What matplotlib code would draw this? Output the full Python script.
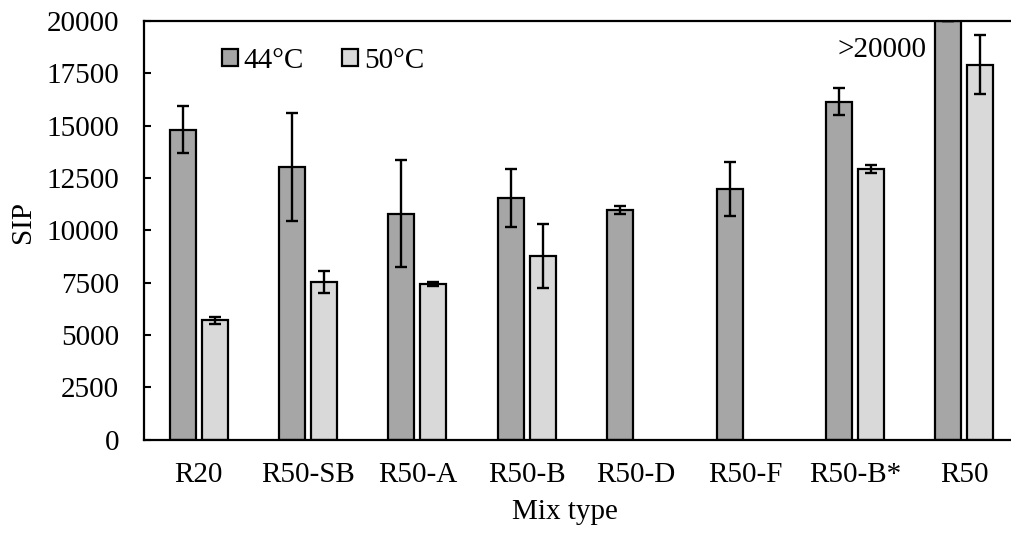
import numpy as np
import matplotlib
matplotlib.use("Agg")
import matplotlib.pyplot as plt

plt.rcParams['font.family'] = ['Liberation Serif', 'DejaVu Serif']

# Mix types and mean SIP values with standard deviations
categories = ["R20", "R50-SB", "R50-A", "R50-B", "R50-D", "R50-F", "R50-B*", "R50"]
sip_44 = [14800, 13020, 10800, 11540, 10960, 11970, 16140, 20000]
err_44 = [1120, 2580, 2580, 1380, 200, 1300, 640, 0]
sip_50 = [5690, 7530, 7420, 8760, np.nan, np.nan, 12910, 17910]
err_50 = [175, 510, 100, 1520, 0, 0, 190, 1400]
series_labels = ["44\u00b0C", "50\u00b0C"]
yticks = [0, 2500, 5000, 7500, 10000, 12500, 15000, 17500, 20000]

W, H, DPI = 1012, 533, 100
fig = plt.figure(figsize=(W / DPI, H / DPI), dpi=DPI)
ax = fig.add_axes([144 / W, 1 - 439.5 / H, 875 / W, 418.5 / H])

FS = 21
x = np.arange(len(categories))
bw = 0.238
off = 0.146
err_kw = dict(ecolor="black", elinewidth=1.7, capthick=1.7)

b1 = ax.bar(x - off, sip_44, bw, color="#A6A6A6", edgecolor="black",
            linewidth=1.6, yerr=err_44, capsize=4.6, error_kw=err_kw,
            label=series_labels[0], zorder=2)
b2 = ax.bar(x + off, sip_50, bw, color="#D9D9D9", edgecolor="black",
            linewidth=1.6, yerr=err_50, capsize=4.6, error_kw=err_kw,
            label=series_labels[1], zorder=2)

ax.set_xlim(-0.5, len(categories) - 0.5)
ax.set_ylim(0, 20000)
ax.set_yticks(yticks)
ax.set_xticks(x)
ax.set_xticklabels(categories)

ax.tick_params(axis="y", direction="in", length=5, width=1.5, pad=18, labelsize=FS)
ax.tick_params(axis="x", length=0, pad=16.5, labelsize=FS)

for side in ("left", "bottom", "top"):
    ax.spines[side].set_linewidth(1.6)
ax.spines["right"].set_visible(False)

ax.set_ylabel("SIP", fontsize=FS, va="center")
ax.yaxis.set_label_coords(-(144 - 23) / 875, 0.52)
ax.set_xlabel("Mix type", fontsize=FS, va="center")
ax.xaxis.set_label_coords((565 - 144) / 875, -(512 - 439.5) / 418.5)

# Note for the off-scale R50 bar at 44 °C
fig.text(927 / W, 1 - 50 / H, ">20000", fontsize=FS, ha="right", va="center")

ax.legend(handles=[b1, b2], loc="center left",
          bbox_to_anchor=(222 / W, 1 - 61 / H), bbox_transform=fig.transFigure,
          ncol=2, frameon=False, fontsize=FS, handlelength=0.55, handleheight=0.55,
          handletextpad=0.2, columnspacing=1.3, borderpad=0, borderaxespad=0)

fig.savefig("out.png", dpi=DPI)
